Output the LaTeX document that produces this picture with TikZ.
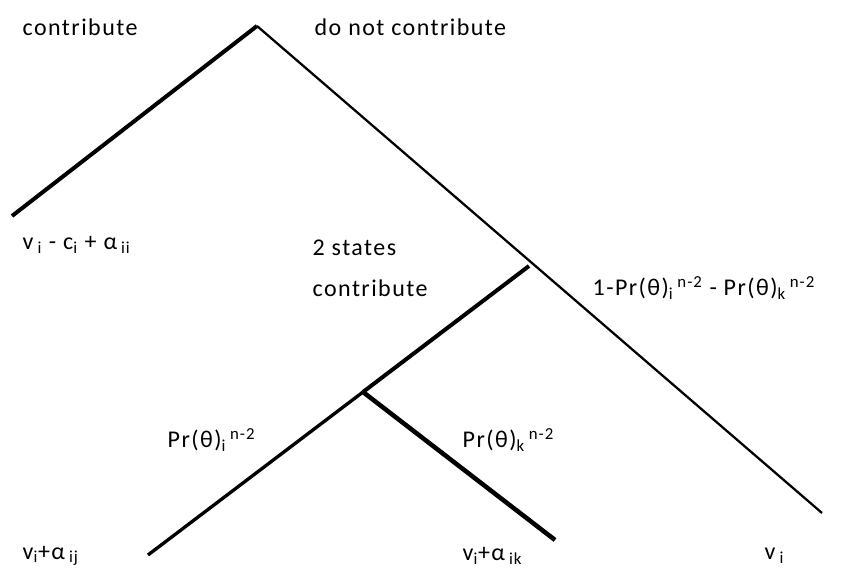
\documentclass[tikz,border=0pt]{standalone}
\usepackage{fontspec}
\setmainfont{Carlito}[LetterSpace=6]
\usetikzlibrary{positioning}

\begin{document}
\begin{tikzpicture}[x=0.75pt, y=-0.75pt]
        \useasboundingbox (0,0) rectangle (843,573);
        % Pontos da árvore
        \coordinate (root) at (257,26);
        \coordinate (leafL) at (12,216);
        \coordinate (n2) at (529,266);
        \coordinate (leafR) at (822,513);
        \coordinate (n3) at (363,392);
        \coordinate (leafA) at (148,555);
        \coordinate (leafB) at (555,540);

        % Ramos
        \draw[line width=3pt] (root) -- (leafL);
        \draw[line width=1.7pt] (root) -- (leafR);
        \draw[line width=3pt] (n2) -- (n3);
        \draw[line width=2.5pt] (n3) -- (leafA);
        \draw[line width=3.4pt] (n3) -- (leafB);

        % Rótulos
        \node[font=\fontsize{18}{21}\selectfont, anchor=west] (tC) at (18,27) {contribute};
        \node[font=\fontsize{18}{21}\selectfont, anchor=west] (tD) at (310,27) {do not contribute};
        \node[font=\fontsize{18}{21}\selectfont, anchor=west] (pL) at (18,245) {v\,\textsubscript{i} - c\textsubscript{i} + α\,\textsubscript{ii}};
        \node[font=\fontsize{18}{21}\selectfont, anchor=west] (t2a) at (308,248) {2 states};
        \node[font=\fontsize{18}{21}\selectfont, anchor=west] (t2b) at (308,288) {contribute};
        \node[font=\fontsize{18}{21}\selectfont, anchor=west] (pR) at (588,288) {1-Pr(θ)\textsubscript{i}\,\textsuperscript{n-2} - Pr(θ)\textsubscript{k}\,\textsuperscript{n-2}};
        \node[font=\fontsize{18}{21}\selectfont, anchor=west] (pi) at (163,440) {Pr(θ)\textsubscript{i}\,\textsuperscript{n-2}};
        \node[font=\fontsize{18}{21}\selectfont, anchor=west] (pk) at (458,440) {Pr(θ)\textsubscript{k}\,\textsuperscript{n-2}};
        \node[font=\fontsize{18}{21}\selectfont, anchor=west] (vA) at (18,556) {v\textsubscript{i}+α\,\textsubscript{ij}};
        \node[font=\fontsize{18}{21}\selectfont, anchor=west] (vB) at (458,556) {v\textsubscript{i}+α\,\textsubscript{ik}};
        \node[font=\fontsize{18}{21}\selectfont, anchor=west] (vC) at (760,556) {v\,\textsubscript{i}};
    \end{tikzpicture}
\end{document}
